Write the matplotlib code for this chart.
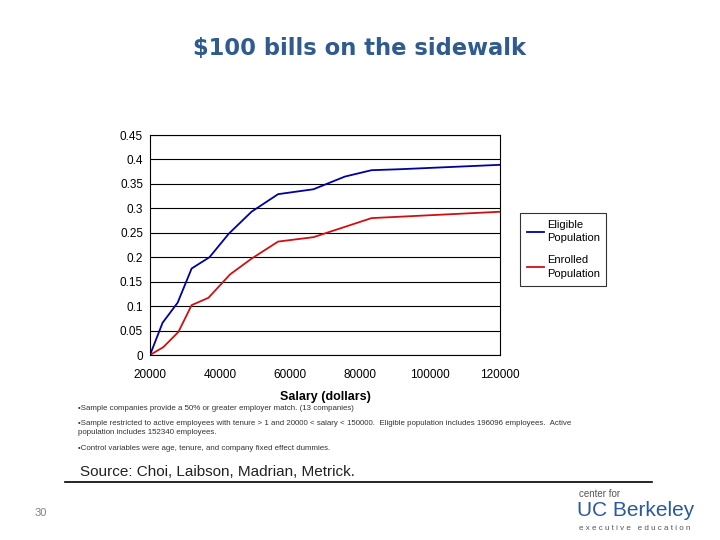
import numpy as np
import matplotlib
matplotlib.use("Agg")
import matplotlib.pyplot as plt

# salary (dollars) vs participation effect
elig_x = [20000, 23600, 27900, 31900, 37000, 42500, 49000, 56600, 66700, 75700, 83300, 91400, 120000]
elig_y = [0.0, 0.066, 0.107, 0.177, 0.200, 0.248, 0.293, 0.329, 0.339, 0.365, 0.378, 0.380, 0.389]
enr_x = [20000, 23800, 28100, 31900, 36700, 42900, 49000, 56600, 66700, 83300, 120000]
enr_y = [0.0, 0.016, 0.047, 0.102, 0.117, 0.165, 0.197, 0.232, 0.241, 0.280, 0.293]

x_ticks = [20000, 40000, 60000, 80000, 100000, 120000]
y_ticks = [0, 0.05, 0.1, 0.15, 0.2, 0.25, 0.3, 0.35, 0.4, 0.45]
y_labels = ["0", "0.05", "0.1", "0.15", "0.2", "0.25", "0.3", "0.35", "0.4", "0.45"]

notes = [
    "\u2022Sample companies provide a 50% or greater employer match. (13 companies)",
    "\u2022Sample restricted to active employees with tenure > 1 and 20000 < salary < 150000.  Eligible population includes 196096 employees.  Active\npopulation includes 152340 employees.",
    "\u2022Control variables were age, tenure, and company fixed effect dummies.",
]

plt.rcParams["font.family"] = ["Liberation Sans", "DejaVu Sans"]

fig = plt.figure(figsize=(7.2, 5.4), dpi=100)
ax = fig.add_axes([150 / 720, 1 - 355 / 540, 350 / 720, 220 / 540])

ax.plot(elig_x, elig_y, color="#0000a0", lw=1.3, label="Eligible\nPopulation")
ax.plot(enr_x, enr_y, color="#d01010", lw=1.3, label="Enrolled\nPopulation")

ax.set_xlim(20000, 120000)
ax.set_ylim(0, 0.45)
ax.set_xticks(x_ticks)
ax.set_xticklabels([str(v) for v in x_ticks])
ax.set_yticks(y_ticks)
ax.set_yticklabels(y_labels)
ax.tick_params(labelsize=8.5, length=0, pad=5)
ax.tick_params(axis="x", pad=10)
ax.yaxis.grid(True, color="black", lw=0.8)
ax.set_axisbelow(True)
for s in ax.spines.values():
    s.set_linewidth(0.8)
ax.set_xlabel("Salary (dollars)", fontsize=9, fontweight="bold", labelpad=7)

leg = ax.legend(loc="upper left", bbox_to_anchor=(520 / 720, 1 - 213 / 540),
                bbox_transform=fig.transFigure, fontsize=8,
                frameon=True, fancybox=False, edgecolor="black",
                handlelength=1.6, handletextpad=0.2, labelspacing=1.1,
                borderpad=0.6, borderaxespad=0)
leg.get_frame().set_linewidth(0.8)
for t in leg.get_texts():
    t.set_linespacing(1.45)

fig.text(0.5, 1 - 49 / 540, "\\$100 bills on the sidewalk", ha="center", va="center",
         fontsize=16.3, fontweight="bold", color="#2f5b8f", family="DejaVu Sans")

fig.text(78 / 720, 1 - 408 / 540, notes[0], fontsize=5.7, color="#333333", va="center")
fig.text(78 / 720, 1 - 428 / 540, notes[1], fontsize=5.7, color="#333333", va="center",
         linespacing=1.25)
fig.text(78 / 720, 1 - 449 / 540, notes[2], fontsize=5.7, color="#333333", va="center")
fig.text(80 / 720, 1 - 472 / 540, "Source: Choi, Laibson, Madrian, Metrick.",
         fontsize=11, color="#222222", va="center")
fig.add_artist(plt.Line2D([65 / 720, 652 / 720], [1 - 482 / 540, 1 - 482 / 540],
                          color="black", lw=1.2))

fig.text(35 / 720, 1 - 513 / 540, "30", fontsize=8, color="#808080", va="center")

fig.text(579 / 720, 1 - 494 / 540, "center for", fontsize=7, color="#555555", va="center")
fig.text(577 / 720, 1 - 511 / 540, "UC Berkeley", fontsize=15, color="#2a5a9a", va="center")
fig.text(579 / 720, 1 - 528 / 540, "e x e c u t i v e   e d u c a t i o n", fontsize=5.8,
         color="#555555", va="center")

fig.savefig("out.png", dpi=100)
